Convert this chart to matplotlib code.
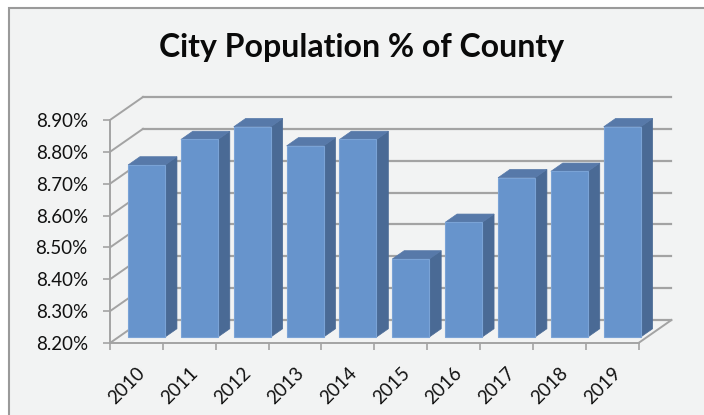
import numpy as np
import matplotlib.pyplot as plt
from matplotlib.patches import Polygon, Rectangle
from matplotlib.ticker import FuncFormatter

years = ['2010', '2011', '2012', '2013', '2014', '2015', '2016', '2017', '2018', '2019']
share = [8.74, 8.82, 8.86, 8.80, 8.82, 8.445, 8.56, 8.70, 8.72, 8.86]
yticks = [8.20, 8.30, 8.40, 8.50, 8.60, 8.70, 8.80, 8.90]

plt.rcParams['font.family'] = ['Lato', 'DejaVu Sans']

# depth offset of the fake 3d box (category units, percent units)
DX, DY = 0.624, 0.0722
D0, D1 = 0.26, 0.62      # bar front/back depth as fraction of box depth
BG = '#f2f3f3'
GRID = '#a3a3a3'

fig = plt.figure(figsize=(7.04, 4.15), dpi=100)
fig.patch.set_facecolor('white')
# chart area with gray border on top / left
fig.patches.append(Rectangle((9 / 704, -0.01), 1.0, 1 - 8 / 415 + 0.01, transform=fig.transFigure,
                             facecolor=BG, edgecolor='#9a9a9a', linewidth=1.5, zorder=-10))

ax = fig.add_axes([110 / 704, 72 / 415, 565.5 / 704, 248.5 / 415])
ax.set_zorder(5)
ax.set_xlim(0, 10.7)
ax.set_ylim(8.20, 8.98)
ax.patch.set_visible(False)

# back wall gridlines and side diagonals
n = len(years)
for v in yticks:
    ax.plot([0, DX], [v, v + DY], color=GRID, lw=1.4, zorder=1)
    ax.plot([DX, n + DX], [v + DY, v + DY], color=GRID, lw=1.6, zorder=1)
ax.plot([n, n + DX], [yticks[0], yticks[0] + DY], color=GRID, lw=1.4, zorder=1)

# bars
base = yticks[0]
for i, v in enumerate(share):
    x0 = i + 0.18 + D0 * DX
    x1 = i + 0.88 + D0 * DX
    yb = base + D0 * DY
    yt = v + D0 * DY
    ddx = (D1 - D0) * DX
    ddy = (D1 - D0) * DY
    side = Polygon([(x1, yb), (x1 + ddx, yb + ddy), (x1 + ddx, yt + ddy), (x1, yt)],
                   closed=True, facecolor='#4a6a95', edgecolor='#4a6a95', lw=0.5, zorder=3)
    top = Polygon([(x0, yt), (x1, yt), (x1 + ddx, yt + ddy), (x0 + ddx, yt + ddy)],
                  closed=True, facecolor='#5779a9', edgecolor='#5779a9', lw=0.5, zorder=3)
    front = Rectangle((x0, yb), x1 - x0, yt - yb, facecolor='#6794cc',
                      edgecolor='#7aa3d6', lw=0.8, zorder=4)
    ax.add_patch(side)
    ax.add_patch(top)
    ax.add_patch(front)

# axes
for s in ['top', 'right']:
    ax.spines[s].set_visible(False)
ax.spines['left'].set_bounds(yticks[0], yticks[-1])
ax.spines['bottom'].set_bounds(0, n)
ax.spines['left'].set_color(GRID)
ax.spines['bottom'].set_color(GRID)
ax.spines['left'].set_linewidth(1.4)
ax.spines['bottom'].set_linewidth(1.4)

ax.set_yticks(yticks)
ax.yaxis.set_major_formatter(FuncFormatter(lambda v, p: '%.2f%%' % v))
ax.tick_params(axis='y', length=5, width=1.2, color=GRID, pad=11, labelsize=13.5, labelcolor='#111111')

ax.set_xticks(np.arange(0, n + 1))
ax.set_xticklabels([])
ax.set_xticks(np.arange(n) + 0.5, minor=True)
ax.set_xticklabels(years, minor=True, rotation=45, ha='right', va='top', rotation_mode='anchor')
ax.tick_params(axis='x', which='major', length=5, width=1.2, color=GRID)
ax.tick_params(axis='x', which='minor', length=0, pad=15, labelsize=13.5, labelcolor='#111111')

fig.text(362 / 704, 1 - 47 / 415, 'City Population % of County', ha='center', va='center',
         fontsize=23, fontweight='bold', color='#0a0a0a')

fig.savefig('out.png', dpi=100, facecolor=fig.get_facecolor())
